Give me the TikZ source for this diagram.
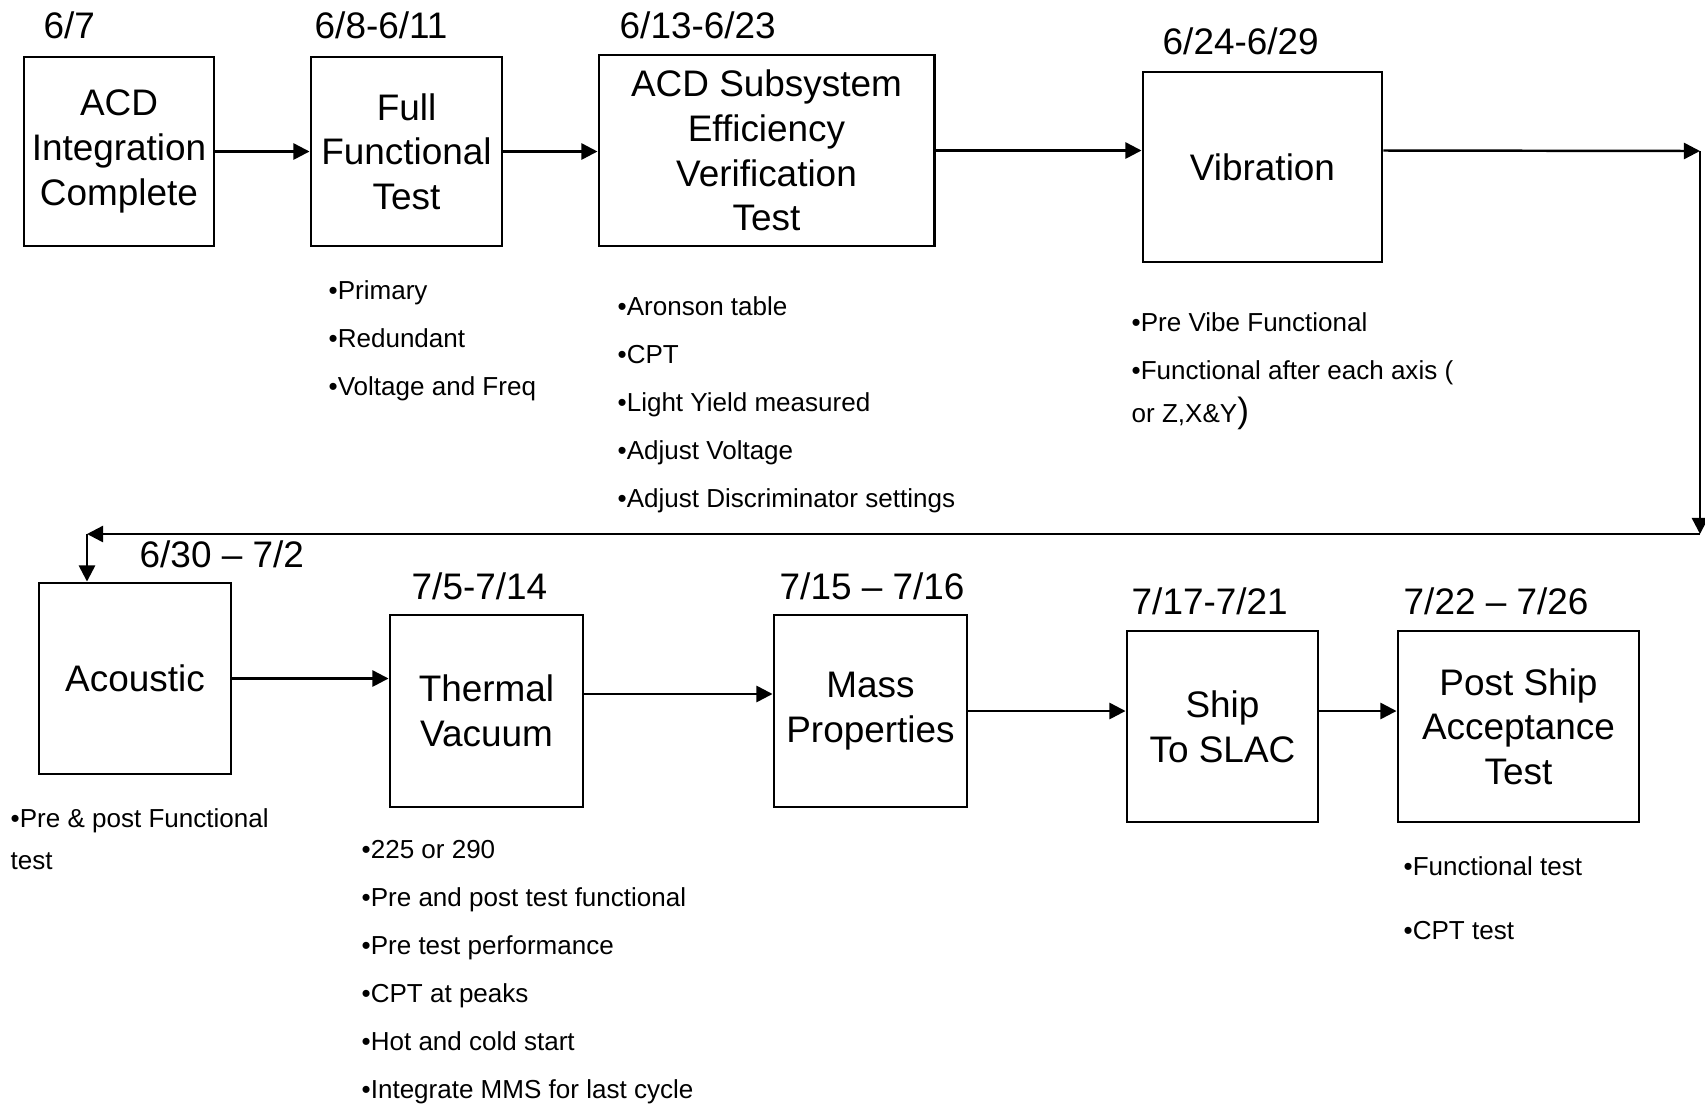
\documentclass[tikz,border=0pt]{standalone}
\usepackage{fontspec}
\setmainfont{Liberation Sans}
\usetikzlibrary{arrows.meta,positioning}

\tikzset{
  box/.style={draw, line width=0.8pt, align=center, inner sep=0pt,
    font=\fontsize{10.5}{12.7}\selectfont},
  datelbl/.style={anchor=base west, inner sep=0pt, font=\fontsize{10.5}{12.7}\selectfont},
  item/.style={anchor=base west, inner sep=0pt, font=\fontsize{7.4}{9}\selectfont},
  flow/.style={line width=0.7pt, -{Triangle[length=4.6pt,width=4.6pt]}},
}

\begin{document}
\begin{tikzpicture}[x=0.01cm, y=-0.01cm]
  \useasboundingbox (0,0) rectangle (1705,1105);

  % top row
  \node[box, minimum width=1.90cm, minimum height=1.89cm] (acd) at (119,151.5) {ACD\\Integration\\Complete};
  \node[box, minimum width=1.91cm, minimum height=1.89cm] (fft) at (406.5,151.5) {Full\\Functional\\Test};
  \node[box, minimum width=3.35cm, minimum height=1.91cm] (sub) at (766.5,150.5) {ACD Subsystem\\Efficiency\\Verification\\Test};
  \node[box, minimum width=2.39cm, minimum height=1.90cm] (vib) at (1262.5,167) {Vibration};

  \node[datelbl] (d1) at (43,38) {6/7};
  \node[datelbl] (d2) at (314,38) {6/8-6/11};
  \node[datelbl] (d3) at (619,38) {6/13-6/23};
  \node[datelbl] (d4) at (1162,54) {6/24-6/29};

  % bottom row
  \node[box, minimum width=1.92cm, minimum height=1.91cm] (acou) at (135,678.5) {Acoustic};
  \node[box, minimum width=1.93cm, minimum height=1.92cm] (therm) at (486.5,711) {Thermal\\Vacuum};
  \node[box, minimum width=1.93cm, minimum height=1.92cm] (mass) at (870.5,711) {Mass\\Properties};
  \node[box, minimum width=1.91cm, minimum height=1.91cm] (ship) at (1222.5,726.5) {Ship\\To SLAC};
  \node[box, minimum width=2.41cm, minimum height=1.91cm] (post) at (1518.5,726.5) {Post Ship\\Acceptance\\Test};

  \node[datelbl] (d5) at (139,567) {6/30 – 7/2};
  \node[datelbl] (d6) at (411,599) {7/5-7/14};
  \node[datelbl] (d7) at (779,599) {7/15 – 7/16};
  \node[datelbl] (d8) at (1131,614) {7/17-7/21};
  \node[datelbl] (d9) at (1403,614) {7/22 – 7/26};

  % notes under the boxes
  \foreach \t [count=\i] in {•Primary, •Redundant, •Voltage and Freq}
    \node[item] (fft-\i) at (328,{299+48*(\i-1)}) {\t};
  \foreach \t [count=\i] in {•Aronson table, •CPT, •Light Yield measured, •Adjust Voltage, •Adjust Discriminator settings}
    \node[item] (sub-\i) at (617,{315+48*(\i-1)}) {\t};
  \node[item] (vib-1) at (1131,331) {•Pre Vibe Functional};
  \node[item] (vib-2) at (1131,379) {•Functional after each axis (};
  \node[item] (vib-3) at (1131,422) {or Z,X\&Y{\fontsize{10}{10}\selectfont )}};
  \node[item] (acou-1) at (10,827) {•Pre \& post Functional};
  \node[item] (acou-2) at (10,869) {test};
  \foreach \t [count=\i] in {•225 or 290, •Pre and post test functional, •Pre test performance, •CPT at peaks, •Hot and cold start, •Integrate MMS for last cycle}
    \node[item] (therm-\i) at (361,{858+48*(\i-1)}) {\t};
  \node[item] (post-1) at (1403,875) {•Functional test};
  \node[item] (post-2) at (1403,939) {•CPT test};

  % connectors
  \coordinate (rtop) at (1700,151);
  \coordinate (rbot) at (1700,534);
  \coordinate (lbot) at (87,534);
  \coordinate (tm) at ([yshift=0.17cm]therm.east);
  \draw[flow] (acd.east) -- (acd.east -| fft.west);
  \draw[flow] (fft.east) -- (fft.east -| sub.west);
  \draw[flow] (sub.east) -- (sub.east -| vib.west);
  \draw[flow] (sub.east -| vib.east) -- (rtop);
  \draw[flow] (rtop) -- (rbot);
  \draw[flow] (rbot) -- (lbot);
  \draw[flow] (lbot) -- (lbot |- acou.north);
  \draw[flow] (acou.east) -- (acou.east -| therm.west);
  \draw[flow] (tm) -- (tm -| mass.west);
  \draw[flow] (mass.east) -- (mass.east -| ship.west);
  \draw[flow] (mass.east -| ship.east) -- (mass.east -| post.west);
\end{tikzpicture}
\end{document}
